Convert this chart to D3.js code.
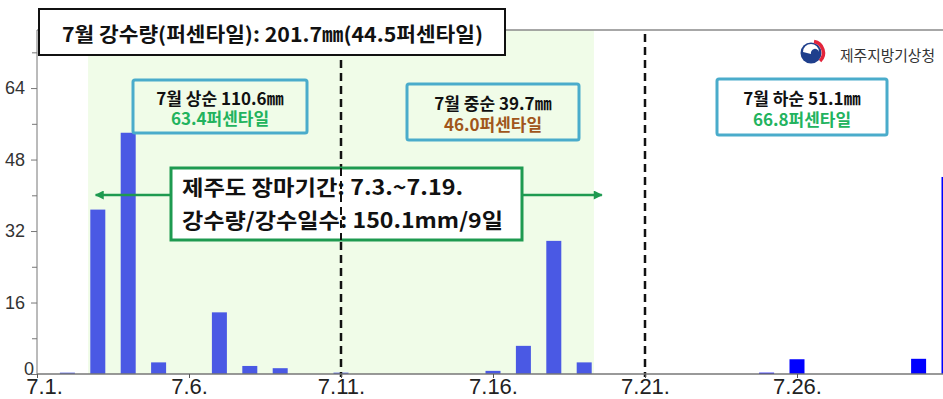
<!DOCTYPE html>
<html><head><meta charset="utf-8">
<script src="https://cdn.jsdelivr.net/npm/d3@7"></script>
<style>
html,body{margin:0;padding:0;background:#fff;overflow:hidden;}
svg{display:block;}
</style></head>
<body>
<svg id="chart" width="943" height="399"></svg>
<script>
// ---- data ----
const days = d3.range(1, 32);
const rain = [0, 0.3, 36.8, 54.0, 2.6, 0, 13.8, 1.8, 1.3, 0,
              0.3, 0, 0, 0, 0, 0.7, 6.3, 29.8, 2.6, 0,
              0, 0, 0, 0, 0.3, 3.3, 0, 0, 0, 3.4, 44.1];
const xTickDays = [1, 6, 11, 16, 21, 26];
const xTickLabels = ["7.1.", "7.6.", "7.11.", "7.16.", "7.21.", "7.26."];
const yMajorTicks = [0, 16, 32, 48, 64];
const yMinorTicks = [8, 24, 40, 56, 72];
const dekadBounds = [11, 21];
const rainySeason = [3, 19];
const titleText = "7월 강수량(퍼센타일):  201.7㎜(44.5퍼센타일)";
const dekadLine1 = ["7월 상순 110.6㎜", "7월 중순 39.7㎜", "7월 하순 51.1㎜"];
const dekadLine2 = ["63.4퍼센타일", "46.0퍼센타일", "66.8퍼센타일"];
const seasonLines = ["제주도 장마기간: 7.3.~7.19.", "강수량/강수일수: 150.1mm/9일"];
const agencyName = "제주지방기상청";

// ---- scales ----
const svg = d3.select("#chart");
const x = d3.scaleLinear().domain([1, 31]).range([37, 949]);
const y = d3.scaleLinear().domain([0, 77]).range([374, 30]);
const barColor = d3.scaleThreshold().domain([21]).range(["#4a59e4", "#0000ff"]);
const barW = 15;
const KR = "'Noto Sans CJK KR','Noto Sans',sans-serif";

// rainy season shade
svg.append("rect")
  .attr("x", x(rainySeason[0] - 0.32)).attr("y", y(77))
  .attr("width", x(rainySeason[1] + 0.32) - x(rainySeason[0] - 0.32))
  .attr("height", y(0) - y(77))
  .attr("fill", "#f0fce8");

// top frame line
svg.append("line").attr("x1", 37).attr("x2", 943).attr("y1", y(77)).attr("y2", y(77))
  .attr("stroke", "#8a8a8a").attr("stroke-width", 1.5);

// bars
svg.append("g").selectAll("rect").data(days.map((d, i) => ({day: d, v: rain[i]})).filter(d => d.v > 0))
  .join("rect")
  .attr("x", d => x(d.day) - barW / 2)
  .attr("y", d => y(d.v))
  .attr("width", barW)
  .attr("height", d => Math.max(1, y(0) - y(d.v)))
  .attr("fill", d => barColor(d.day));

// dekad dashed lines
svg.append("g").selectAll("line").data(dekadBounds).join("line")
  .attr("x1", d => x(d)).attr("x2", d => x(d))
  .attr("y1", y(77) + 4).attr("y2", y(0) + 3)
  .attr("stroke", "#111").attr("stroke-width", 2.5)
  .attr("stroke-dasharray", "8,5");

// y axis
const yAxis = d3.axisLeft(y).tickValues(yMajorTicks).tickSize(6).tickPadding(6).tickFormat(d3.format("d"));
const gy = svg.append("g").attr("transform", "translate(37,0)").call(yAxis);
gy.select(".domain").attr("stroke", "#777").attr("d", `M0,${y(77)}V${y(0)}`);
gy.selectAll(".tick line").attr("stroke", "#777");
gy.selectAll(".tick text").attr("font-family", "'Liberation Sans',Arial,sans-serif")
  .attr("font-size", 18).attr("fill", "#333")
  .attr("dx", d => d === 0 ? 9 : 0)
  .attr("dy", d => d === 0 ? "0.0em" : "0.32em");
svg.append("g").attr("transform", "translate(37,0)")
  .call(d3.axisLeft(y).tickValues(yMinorTicks).tickSize(5).tickFormat(""))
  .call(g => g.select(".domain").remove())
  .selectAll(".tick line").attr("stroke", "#777");

// x axis
const xAxis = d3.axisBottom(x).tickValues(xTickDays).tickSize(4).tickPadding(0)
  .tickFormat((d, i) => xTickLabels[i]);
const gx = svg.append("g").attr("transform", `translate(0,${y(0)})`).call(xAxis);
gx.select(".domain").attr("stroke", "#777").attr("stroke-width", 1.5).attr("d", `M37,0H943`);
gx.selectAll(".tick line").attr("stroke", "#555");
gx.selectAll(".tick text").attr("font-family", "'Liberation Sans',Arial,sans-serif")
  .attr("font-size", 22).attr("fill", "#222")
  .attr("dx", (d, i) => i === 0 ? 7 : 0);

// title box
svg.append("rect").attr("x", 39).attr("y", 9).attr("width", 466).attr("height", 46)
  .attr("fill", "#fff").attr("stroke", "#111").attr("stroke-width", 2);
svg.append("text").attr("x", 62).attr("y", 33)
  .attr("dominant-baseline", "central")
  .attr("textLength", 421).attr("lengthAdjust", "spacingAndGlyphs")
  .attr("font-family", KR).attr("font-weight", 700).attr("font-size", 20).attr("fill", "#111")
  .text(titleText);

// dekad boxes
const boxes = [
  {x: 133, y: 80, w: 174, h: 53, c: "#22b35e"},
  {x: 407, y: 84, w: 172, h: 56, c: "#a0561b"},
  {x: 717, y: 79, w: 170, h: 56, c: "#22b35e"}
];
boxes.forEach((b, i) => {
  svg.append("rect").attr("x", b.x).attr("y", b.y).attr("width", b.w).attr("height", b.h)
    .attr("rx", 2).attr("fill", "none").attr("stroke", "#4aaccb").attr("stroke-width", 3);
  const t = svg.append("text").attr("text-anchor", "middle")
    .attr("font-family", KR).attr("font-weight", 700).attr("font-size", 17);
  t.append("tspan").attr("x", b.x + b.w / 2).attr("y", b.y + b.h * 0.33)
    .attr("dominant-baseline", "central").attr("fill", "#111").text(dekadLine1[i]);
  t.append("tspan").attr("x", b.x + b.w / 2).attr("y", b.y + b.h * 0.71)
    .attr("dominant-baseline", "central").attr("fill", b.c).text(dekadLine2[i]);
});

// season arrow
const defs = svg.append("defs");
["s", "e"].forEach(k => {
  defs.append("marker").attr("id", "arr-" + k).attr("viewBox", "0 0 10 10")
    .attr("refX", 9).attr("refY", 5).attr("markerWidth", 11).attr("markerHeight", 9)
    .attr("markerUnits", "userSpaceOnUse").attr("orient", k === "s" ? "auto-start-reverse" : "auto")
    .append("path").attr("d", "M0,0L10,5L0,10Z").attr("fill", "#1e9a50");
});
svg.append("line").attr("x1", x(2.93)).attr("x2", x(19.58)).attr("y1", 195).attr("y2", 195)
  .attr("stroke", "#1e9a50").attr("stroke-width", 2.5)
  .attr("marker-start", "url(#arr-s)").attr("marker-end", "url(#arr-e)");

// season box
svg.append("rect").attr("x", 171).attr("y", 168).attr("width", 351).attr("height", 72)
  .attr("fill", "#fff").attr("stroke", "#1e9a50").attr("stroke-width", 3);
const seasonWidths = [281, 321];
const st = svg.append("text").attr("font-family", KR).attr("font-weight", 700)
  .attr("font-size", 21).attr("fill", "#111");
seasonLines.forEach((t, i) => {
  st.append("tspan").attr("x", 182).attr("y", 186 + i * 33)
    .attr("dominant-baseline", "central")
    .attr("textLength", seasonWidths[i]).attr("lengthAdjust", "spacingAndGlyphs")
    .text(t);
});
// dashed line passes over the season box
svg.append("line").attr("x1", x(11)).attr("x2", x(11)).attr("y1", 168).attr("y2", 240)
  .attr("stroke", "#111").attr("stroke-width", 2).attr("stroke-dasharray", "8,5");

// agency logo
const lg = svg.append("g").attr("transform", "translate(811,53)");
lg.append("circle").attr("r", 10.5).attr("fill", "#1f3f8c");
lg.append("path").attr("d", "M-8,-1 A8,8 0 0 1 8,-1 A4,4 0 0 0 0,1 Z").attr("fill", "#fff");
lg.append("path").attr("d", "M3,-11.5 A11.5,11.5 0 0 1 9,8").attr("fill", "none")
  .attr("stroke", "#e3243b").attr("stroke-width", 3.5);
svg.append("text").attr("x", 840).attr("y", 54).attr("dominant-baseline", "central")
  .attr("textLength", 95).attr("lengthAdjust", "spacingAndGlyphs")
  .attr("font-family", KR).attr("font-size", 14.5).attr("fill", "#333").text(agencyName);
</script>
</body></html>
